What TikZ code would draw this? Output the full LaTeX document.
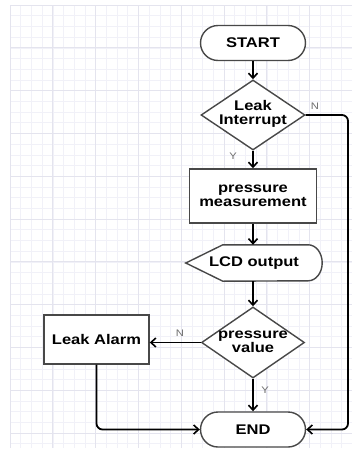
\documentclass[tikz,border=0pt]{standalone}
\usepackage{fontspec}
\usetikzlibrary{arrows.meta}
\usetikzlibrary{shapes.geometric}
\usetikzlibrary{shapes.misc}
\newfontfamily\chartfont{Liberation Sans}[FakeStretch=1.18]
\definecolor{gridmin}{RGB}{241,241,248}
\definecolor{gridmaj}{RGB}{228,228,238}
\definecolor{boxline}{RGB}{72,72,72}
\definecolor{lblgray}{RGB}{110,110,110}
\tikzset{
  shapebase/.style={draw=boxline,line width=1.4pt,fill=white,inner sep=0pt},
  chtext/.style={font=\chartfont\bfseries\fontsize{14}{14.5}\selectfont,align=center,inner sep=0pt},
  terminal/.style={shapebase,chtext,rounded rectangle,minimum width=105pt,minimum height=35pt},
  process/.style={shapebase,chtext,rectangle},
  decision/.style={shapebase,diamond,minimum width=104pt,minimum height=70pt},
  flow/.style={line width=1.8pt,-{Straight Barb[length=5pt,width=9pt,line width=1.6pt]}},
  yn/.style={font=\chartfont\fontsize{9.5}{9.5}\selectfont,text=lblgray,inner sep=0pt}
}
\begin{document}
\begin{tikzpicture}[x=1pt,y=-1pt]
\useasboundingbox[fill=white] (0,0) rectangle (362,453);
\foreach \g in {0,...,31} \draw[gridmin,line width=0.6pt] (10+10.7*\g,5) -- (10+10.7*\g,448);
\foreach \g in {0,...,41} \draw[gridmin,line width=0.6pt] (10,5+10.7*\g) -- (352,5+10.7*\g);
\foreach \g in {0,...,7} \draw[gridmaj,line width=0.8pt] (10+42.8*\g,5) -- (10+42.8*\g,448);
\foreach \g in {0,...,10} \draw[gridmaj,line width=0.8pt] (10,5+42.8*\g) -- (352,5+42.8*\g);

\node[terminal] (start) at (253,43) {START};
\node[decision] (leak) at (253,115) {};
\node[chtext] (leakT) at (253,114) {Leak\\Interrupt};
\node[process,minimum width=127pt,minimum height=54pt] (meas) at (253,196) {pressure\\measurement};
\node[chtext,minimum width=136pt,minimum height=36pt] (lcd) at (254,263) {};
\draw[shapebase] (lcd.west) -- ([xshift=37pt]lcd.north west) -- ([xshift=-14pt]lcd.north east)
  arc[start angle=90,end angle=-90,x radius=14pt,y radius=18pt] -- ([xshift=37pt]lcd.south west) -- cycle;
\node[chtext] (lcdT) at (254,263) {LCD output};
\node[decision,minimum width=103pt,minimum height=71pt] (press) at (253,342.5) {};
\node[chtext] (pressT) at (253,342) {pressure\\value};
\node[process,minimum width=105pt,minimum height=49pt] (alarm) at (96.5,339.5) {Leak Alarm};
\node[terminal] (fin) at (253,429.5) {END};
\coordinate (rail) at (348,115);

\draw[flow] (start) -- (leak);
\draw[flow] (leak) -- (meas);
\draw[flow] (meas) -- (lcd.north -| meas);
\draw[flow] (lcd.south -| press) -- (press);
\draw[flow] (press.west) -- (press.west -| alarm.east);
\draw[flow] (press) -- (fin);
\draw[flow,rounded corners=6pt] (leak.east) -- (rail) |- (fin.east);
\draw[flow,rounded corners=6pt] (alarm.south) |- (fin.west);

\node[yn] (leakN) at (315,106) {N};
\node[yn] (leakY) at (233,156) {Y};
\node[yn] (pressN) at (180,333) {N};
\node[yn] (pressY) at (265,390) {Y};
\end{tikzpicture}
\end{document}
